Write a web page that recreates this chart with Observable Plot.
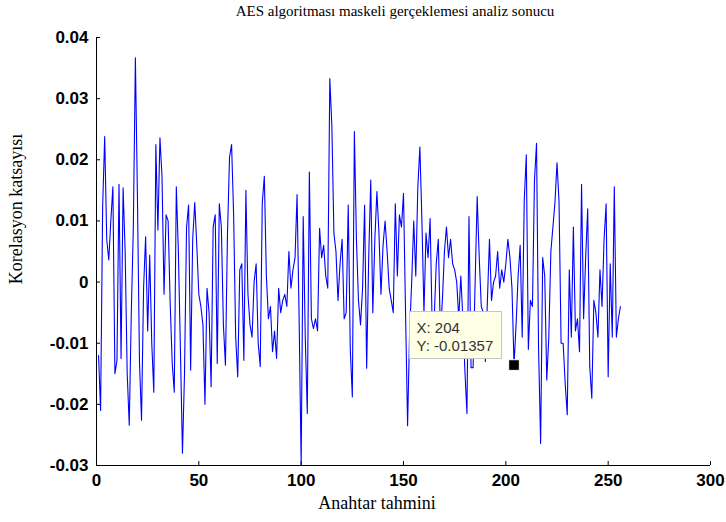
<!DOCTYPE html>
<html><head><meta charset="utf-8">
<script src="https://cdn.jsdelivr.net/npm/d3@7"></script>
<script src="https://cdn.jsdelivr.net/npm/@observablehq/plot@0.6"></script>
<style>
body{margin:0;background:#fff;width:726px;height:522px;overflow:hidden;}
#title{box-sizing:border-box;width:726px;height:25px;padding-left:64px;text-align:center;font-family:"Liberation Serif","Times New Roman",serif;font-size:15px;line-height:23px;color:#000;}
</style></head><body>
<div id="title"></div>
<div id="chart"></div>
<script>
const titleText = "AES algoritması maskeli gerçeklemesi analiz sonucu";
const xLabel = "Anahtar tahmini";
const yLabel = "Korelasyon katsayısı";
const xTicks = [0, 50, 100, 150, 200, 250, 300];
const yTicks = [-0.03, -0.02, -0.01, 0, 0.01, 0.02, 0.03, 0.04];
const tipPoint = {k: 204, r: -0.01357};

const seg1 = [-0.012,-0.021,0.0123,0.0238,0.007,0.0036,0.010,0.0156,-0.015,-0.0128,0.016,-0.0125,0.0154,0.005,-0.015,-0.0234,-0.005,0.009,0.0367,0.014,-0.013,-0.0226,-0.001,0.0074,-0.008,0.0044,-0.010,-0.018,0.0225,0.0085,0.0236,0.0173];
const seg2 = [-0.002,0.011,0.010,-0.0035,-0.0133,-0.018,0.0156,0.005,-0.011,-0.028,-0.015,0.009,0.0126,-0.0144,0.007,0.013,0.006,-0.002,-0.004,-0.007,-0.020,-0.001,-0.005,-0.0171,0.009,0.011,-0.0133,0.0128,0.009,-0.007,-0.0136,0.008];
const seg3 = [0.0204,0.0225,0.011,-0.009,-0.0155,0.002,0.003,-0.0128,0.015,-0.002,-0.007,-0.009,0.0,0.003,-0.010,-0.0138,0.013,0.0173,0.001,-0.006,-0.004,-0.0114,-0.008,-0.0125,-0.001,-0.005,-0.003,-0.002,-0.004,0.005,-0.001,0.002];
const seg4 = [0.004,0.0143,-0.006,-0.030,0.0107,-0.009,-0.0215,0.018,-0.006,-0.0076,-0.006,-0.008,0.0088,0.004,0.006,0.001,-0.001,0.0333,0.0255,0.008,0.005,-0.003,0.003,0.007,-0.006,-0.005,0.0126,-0.011,-0.0188,0.0246,0.007,-0.003];
const seg5 = [-0.007,-0.001,0.0126,-0.0141,0.004,0.0167,-0.005,0.007,0.0148,0.008,-0.002,0.006,0.010,0.005,-0.001,-0.003,-0.005,0.0128,0.001,0.011,0.009,0.0145,-0.005,-0.0235,-0.008,0.000,0.010,0.001,0.0156,0.0221,0.010,-0.005];
const seg6 = [0.008,0.004,0.0104,-0.007,-0.006,0.003,0.007,-0.008,-0.003,0.005,0.009,0.004,0.007,0.003,0.002,0.0,-0.006,0.001,-0.006,-0.0145,-0.0215,0.0107,-0.014,-0.014,0.0,0.014,0.004,-0.004,-0.005,-0.013,-0.003,0.007];
const seg7 = [-0.003,0.0,0.001,0.005,-0.001,0.002,0.0,0.003,0.007,0.004,-0.001,-0.01357,-0.007,0.001,0.006,-0.009,0.0134,0.0208,-0.011,-0.003,-0.004,0.0167,0.0227,-0.011,-0.0264,0.004,0.001,-0.016,-0.009,0.005,0.009,0.013];
const seg8 = [0.0195,0.013,-0.010,-0.010,-0.0166,-0.0217,0.002,-0.009,0.009,-0.008,-0.006,-0.0114,0.016,-0.006,0.004,0.012,-0.0138,-0.019,-0.003,-0.005,-0.009,0.002,-0.004,0.007,0.0128,-0.0155,0.003,-0.009,0.0156,-0.009,-0.006,-0.004];

const values = [...seg1, ...seg2, ...seg3, ...seg4, ...seg5, ...seg6, ...seg7, ...seg8];
const data = values.map((r, i) => ({k: i + 1, r}));

document.getElementById("title").textContent = titleText;

const fmtY = d => d === 0 ? "0" : d.toFixed(2);
const tickFont = {fontSize: 17, fontWeight: "bold", fontFamily: "'Liberation Sans', Arial, sans-serif"};

const M = {left: 96, right: 16, top: 12, bottom: 57};
const plot = Plot.plot({
  width: 726,
  height: 497,
  marginLeft: M.left,
  marginRight: M.right,
  marginTop: M.top,
  marginBottom: M.bottom,
  style: {background: "#fff", color: "#000", overflow: "visible"},
  x: {domain: [0, 300]},
  y: {domain: [-0.03, 0.04]},
  marks: [
    Plot.line(data, {x: "k", y: "r", stroke: "#0000ff", strokeWidth: 1.1}),
    Plot.ruleX([0], {stroke: "#000", strokeWidth: 1}),
    Plot.ruleY([-0.03], {stroke: "#000", strokeWidth: 1}),
    Plot.axisY(yTicks, {tickSize: -4, tickFormat: () => "", label: null}),
    Plot.axisX(xTicks, {tickSize: -4, tickFormat: () => "", label: null}),
    Plot.axisY(yTicks, {tickSize: 0, tickPadding: 8, tickFormat: fmtY, label: null, ...tickFont}),
    Plot.axisX(xTicks, {tickSize: 0, tickPadding: 8, tickFormat: d => String(d), label: null, ...tickFont}),
    Plot.dot([tipPoint], {x: "k", y: "r", symbol: "square", r: 6, fill: "#000", stroke: "#fffff0", strokeWidth: 1})
  ]
});
document.getElementById("chart").appendChild(plot);

const svg = d3.select(plot);
const serif = "'Liberation Serif', 'Times New Roman', serif";
const frameCx = M.left + (726 - M.left - M.right) / 2;
const frameCy = M.top + (497 - M.top - M.bottom) / 2;

// axis titles
svg.append("text")
  .attr("transform", `translate(${M.left - 78},${frameCy - 42}) rotate(-90)`)
  .attr("text-anchor", "middle").attr("dominant-baseline", "middle")
  .attr("font-family", serif).attr("font-size", 18).attr("fill", "#000")
  .text(yLabel);
svg.append("text")
  .attr("x", frameCx - 26).attr("y", 497 - M.bottom + 40)
  .attr("text-anchor", "middle").attr("dominant-baseline", "middle")
  .attr("font-family", serif).attr("font-size", 18).attr("fill", "#000")
  .text(xLabel);

// data tip box anchored to the marked point through the plot's own scales
const sx = plot.scale("x").apply(tipPoint.k);
const sy = plot.scale("y").apply(tipPoint.r);
const g = svg.append("g").attr("text-anchor", "start");
g.append("rect")
  .attr("x", sx - 104).attr("y", sy - 53)
  .attr("width", 92).attr("height", 47)
  .attr("fill", "#ffffe6").attr("stroke", "#c4c4c4").attr("stroke-width", 1);
g.append("text").attr("x", sx - 97).attr("y", sy - 32)
  .attr("font-family", "'Liberation Sans', Arial, sans-serif").attr("font-size", 15)
  .attr("fill", "#333").text("X: " + tipPoint.k);
g.append("text").attr("x", sx - 97).attr("y", sy - 14)
  .attr("font-family", "'Liberation Sans', Arial, sans-serif").attr("font-size", 15)
  .attr("fill", "#333").text("Y: " + tipPoint.r);
</script>
</body></html>
